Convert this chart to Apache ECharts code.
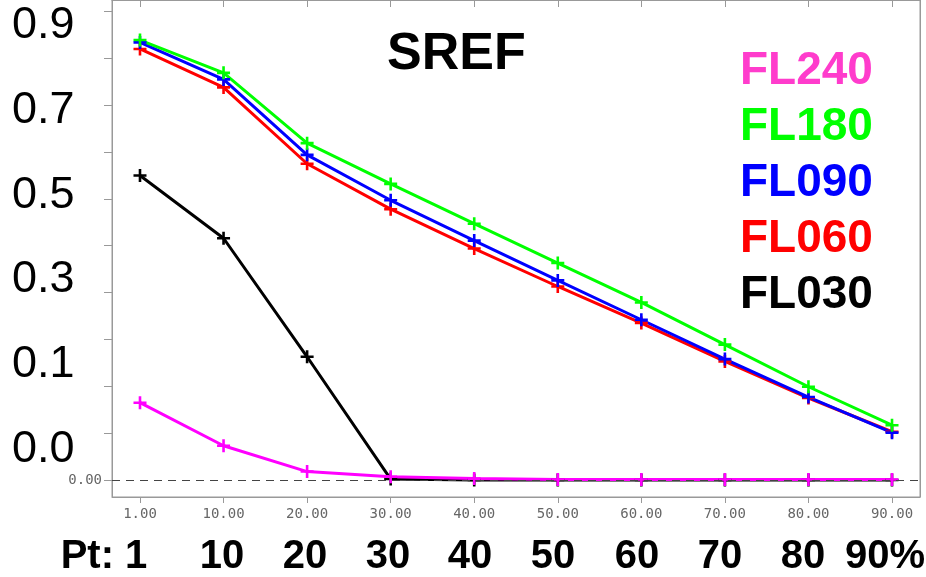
<!DOCTYPE html>
<html>
<head>
<meta charset="utf-8">
<title>SREF</title>
<script src="https://cdn.jsdelivr.net/npm/echarts@6/dist/echarts.min.js"></script>
<style>
    html, body { margin: 0; padding: 0; background: #fff; }
    #chart { width: 926px; height: 577px; }
</style>
</head>
<body>
<div id="chart"></div>
<script>
    // forecast points (percent)
    let xValues = [1, 10, 20, 30, 40, 50, 60, 70, 80, 90]
    let yTicks = [0, 0.1, 0.2, 0.3, 0.4, 0.5, 0.6, 0.7, 0.8, 0.9, 1.0]

    // values per flight level
    let fl240 = [0.165, 0.073, 0.018, 0.007, 0.003, 0.001, 0.001, 0.001, 0.001, 0.001]
    let fl180 = [0.939, 0.869, 0.719, 0.632, 0.547, 0.463, 0.379, 0.289, 0.199, 0.117]
    let fl090 = [0.934, 0.855, 0.694, 0.597, 0.511, 0.426, 0.342, 0.258, 0.177, 0.101]
    let fl060 = [0.920, 0.838, 0.675, 0.578, 0.494, 0.413, 0.335, 0.253, 0.175, 0.103]
    let fl030 = [0.650, 0.516, 0.263, 0.002, 0, 0, 0, 0, 0, 0]

    // big overlay labels
    let bigYLabels = ['0.9', '0.7', '0.5', '0.3', '0.1', '0.0']
    let bigXLabels = ['Pt: 1', '10', '20', '30', '40', '50', '60', '70', '80', '90%']

    let plus = 'path://M4,0H6V4H10V6H6V10H4V6H0V4H4Z'
    let sans = '"Liberation Sans", Arial, Helvetica, sans-serif'
    let mono = '"DejaVu Sans Mono", monospace'
    let xIdx = xValues.map((v, i) => i)

    function makeSeries(name, values, color, extra) {
        let s = {
            name: name,
            type: 'line',
            data: values.map((v, i) => [i, v]),
            symbol: plus,
            symbolSize: 13,
            lineStyle: {color: color, width: 3},
            itemStyle: {color: color},
            animation: false
        }
        return Object.assign(s, extra || {})
    }

    let bigYPos = [26, 111, 196, 280, 365, 450]
    let bigXPos = [104, 222, 305, 388, 470, 553, 637, 720, 803, 885]

    let graphic = []
    bigYLabels.forEach((t, i) => {
        graphic.push({
            type: 'text', left: 12, top: bigYPos[i] - 23,
            style: {text: t, font: '45px ' + sans, fill: '#000'}
        })
    })
    bigXLabels.forEach((t, i) => {
        graphic.push({
            type: 'text', x: bigXPos[i], y: 557,
            style: {text: t, font: 'bold 40px ' + sans, fill: '#000', align: 'center', verticalAlign: 'middle'}
        })
    })

    let option = {
        backgroundColor: '#fff',
        title: {
            text: 'SREF',
            left: 382,
            top: 24,
            textStyle: {fontFamily: sans, fontSize: 52, fontWeight: 'bold', color: '#000'}
        },
        legend: {
            orient: 'vertical',
            left: 730,
            top: 43,
            icon: 'none',
            itemWidth: 0,
            itemHeight: 46,
            itemGap: 10,
            selectedMode: false,
            textStyle: {fontFamily: sans, fontSize: 46, fontWeight: 'bold', lineHeight: 46},
            data: [
                {name: 'FL240', textStyle: {color: '#ff3ccc'}},
                {name: 'FL180', textStyle: {color: '#00ff00'}},
                {name: 'FL090', textStyle: {color: '#0000ff'}},
                {name: 'FL060', textStyle: {color: '#ff0000'}},
                {name: 'FL030', textStyle: {color: '#000000'}}
            ]
        },
        grid: {
            left: 112, right: 6, top: 0, bottom: 80,
            show: true, borderColor: '#999', borderWidth: 1
        },
        xAxis: [
            {
                type: 'value', min: -0.335, max: 9.335,
                axisLine: {show: true, onZero: false, lineStyle: {color: '#999'}},
                axisTick: {show: true, length: 6, customValues: xIdx, lineStyle: {color: '#999'}},
                axisLabel: {
                    customValues: xIdx, margin: 10, color: '#666',
                    fontFamily: mono, fontSize: 14,
                    formatter: v => xValues[Math.round(v)].toFixed(2)
                },
                splitLine: {show: false}
            },
            {
                type: 'value', position: 'top', min: -0.335, max: 9.335,
                axisLine: {show: true, onZero: false, lineStyle: {color: '#999'}},
                axisTick: {show: true, inside: true, length: 7, customValues: xIdx, lineStyle: {color: '#999'}},
                axisLabel: {show: false},
                splitLine: {show: false}
            }
        ],
        yAxis: [
            {
                type: 'value', min: -0.0363, max: 1.0245,
                axisLine: {show: true, onZero: false, lineStyle: {color: '#999'}},
                axisTick: {show: true, length: 8, customValues: yTicks, lineStyle: {color: '#999'}},
                axisLabel: {
                    customValues: [0], margin: 10, color: '#666',
                    fontFamily: mono, fontSize: 14,
                    formatter: v => v.toFixed(2)
                },
                splitLine: {show: false}
            },
            {
                type: 'value', position: 'right', min: -0.0363, max: 1.0245,
                axisLine: {show: true, onZero: false, lineStyle: {color: '#999'}},
                axisTick: {show: false},
                axisLabel: {show: false},
                splitLine: {show: false}
            }
        ],
        series: [
            makeSeries('FL030', fl030, '#000000', {
                markLine: {
                    silent: true, symbol: 'none', animation: false,
                    label: {show: false},
                    lineStyle: {color: '#444', width: 1, type: [8, 6]},
                    data: [{yAxis: 0}]
                }
            }),
            makeSeries('FL060', fl060, '#ff0000'),
            makeSeries('FL090', fl090, '#0000ff'),
            makeSeries('FL180', fl180, '#00ff00'),
            makeSeries('FL240', fl240, '#ff00ff')
        ],
        graphic: graphic
    }

    let myChart = echarts.init(document.getElementById('chart'))
    myChart.setOption(option)
</script>
</body>
</html>
